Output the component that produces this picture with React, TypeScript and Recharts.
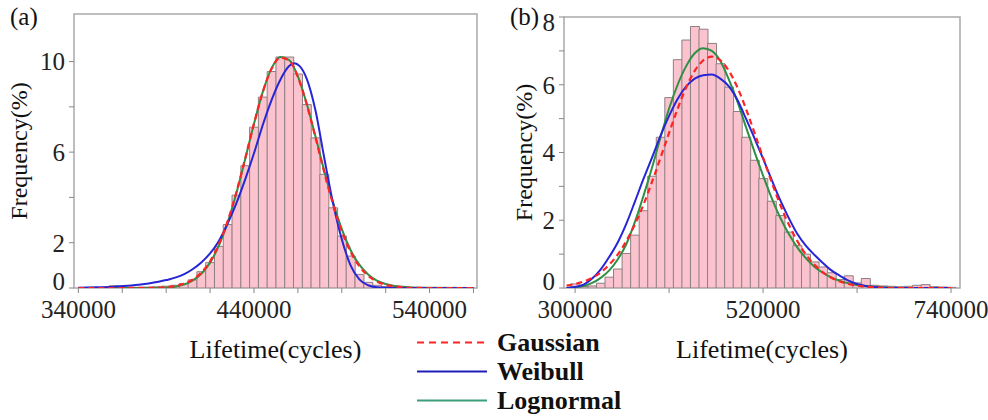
import React from 'react';
import { ComposedChart, Bar, Line, XAxis, YAxis, ReferenceArea } from 'recharts';

const FONT = '"Liberation Serif", "Times New Roman", Times, serif';
const RED = '#ff2424';
const BLUE = '#2626d6';
const GREEN = '#2f8f45';
const LEGEND_GREEN = '#3a9e78';
const BAR_FILL = '#fbc3cd';
const BAR_STROKE = '#8e7e82';
const FRAME = '#a9a9a9';

// ---------- Panel (a) ----------
const binCentersA = [350000, 355000, 360000, 365000, 370000, 375000, 380000, 385000, 390000, 395000, 400000, 405000, 410000, 415000, 420000, 425000, 430000, 435000, 440000, 445000, 450000, 455000, 460000, 465000, 470000, 475000, 480000, 485000, 490000, 495000, 500000, 505000, 510000, 515000, 520000, 525000, 530000, 535000, 540000, 545000, 550000];
const freqA = [0, 0.03, 0.1, 0.05, 0.03, 0.03, 0.04, 0.05, 0.08, 0.12, 0.2, 0.36, 0.72, 1.12, 1.84, 2.8, 4.1, 5.4, 7.1, 8.43, 9.56, 10.2, 10.2, 9.45, 8.1, 6.63, 5.02, 3.54, 2.29, 1.41, 0.6, 0.25, 0.12, 0.06, 0.04, 0.03, 0.02, 0.02, 0.02, 0.01, 0.01];

const fitXA = [340000, 360000, 380000, 390000, 395000, 400000, 405000, 410000, 415000, 420000, 425000, 430000, 435000, 440000, 445000, 450000, 455000, 460000, 465000, 470000, 475000, 480000, 485000, 490000, 495000, 500000, 505000, 510000, 515000, 520000, 525000, 530000, 540000, 565000];
const gaussianA = [0, 0, 0.01, 0.04, 0.09, 0.19, 0.37, 0.68, 1.18, 1.93, 2.95, 4.24, 5.72, 7.26, 8.65, 9.68, 10.17, 10.05, 9.32, 8.12, 6.65, 5.11, 3.7, 2.51, 1.6, 0.96, 0.54, 0.28, 0.14, 0.07, 0.03, 0.01, 0, 0];
const lognormalA = [0, 0, 0, 0.02, 0.06, 0.15, 0.33, 0.63, 1.12, 1.87, 2.9, 4.2, 5.7, 7.25, 8.66, 9.7, 10.2, 10.07, 9.35, 8.15, 6.7, 5.18, 3.78, 2.6, 1.68, 1.03, 0.6, 0.33, 0.18, 0.09, 0.05, 0.02, 0.01, 0];
const weibullXA = [340000, 350000, 360000, 370000, 380000, 390000, 400000, 405000, 410000, 415000, 420000, 425000, 430000, 435000, 440000, 445000, 450000, 455000, 460000, 463000, 466000, 470000, 475000, 480000, 485000, 490000, 495000, 500000, 505000, 510000, 520000, 565000];
const weibullA = [0.01, 0.03, 0.06, 0.11, 0.2, 0.35, 0.6, 0.83, 1.13, 1.53, 2.08, 2.85, 3.75, 4.8, 5.95, 7.2, 8.3, 9.2, 9.8, 9.93, 9.8, 9.25, 7.85, 5.75, 3.75, 2.15, 1.0, 0.38, 0.12, 0.03, 0, 0];

const xDomainA = [337500, 567000];
const xTicksA = [340000, 365000, 390000, 415000, 440000, 465000, 490000, 515000, 540000, 565000];
const xLabelsA = [340000, 440000, 540000];
const yDomainA = [0, 12.1];
const yTicksA = [0, 2, 4, 6, 8, 10];
const yLabelsA = [0, 2, 6, 10];

// ---------- Panel (b) ----------
const binCentersB = [300000, 310000, 320000, 330000, 340000, 350000, 360000, 370000, 380000, 390000, 400000, 410000, 420000, 430000, 440000, 450000, 460000, 470000, 480000, 490000, 500000, 510000, 520000, 530000, 540000, 550000, 560000, 570000, 580000, 590000, 600000, 610000, 620000, 630000, 640000, 650000, 660000, 670000, 680000, 690000, 700000, 710000, 720000, 730000, 740000];
const freqB = [0.12, 0.04, 0.06, 0.14, 0.32, 0.56, 1.02, 1.56, 2.28, 3.3, 4.45, 5.62, 6.74, 7.32, 7.72, 7.64, 7.22, 6.62, 5.93, 5.21, 4.45, 3.77, 3.23, 2.56, 2.14, 1.65, 1.25, 1.0, 0.77, 0.62, 0.45, 0.25, 0.36, 0.15, 0.28, 0.08, 0.06, 0.05, 0.04, 0.05, 0.08, 0.1, 0.04, 0.03, 0.02];

const fitXB = [290000, 300000, 310000, 320000, 330000, 340000, 350000, 360000, 370000, 380000, 390000, 400000, 410000, 420000, 430000, 440000, 450000, 460000, 470000, 480000, 490000, 500000, 510000, 520000, 530000, 540000, 550000, 560000, 570000, 580000, 590000, 600000, 610000, 620000, 630000, 640000, 650000, 660000, 670000, 680000, 690000, 700000, 720000, 740000];
const gaussianB = [0.07, 0.12, 0.19, 0.3, 0.46, 0.69, 0.99, 1.39, 1.88, 2.46, 3.13, 3.85, 4.58, 5.29, 5.92, 6.41, 6.72, 6.83, 6.72, 6.41, 5.92, 5.29, 4.58, 3.85, 3.13, 2.46, 1.88, 1.39, 0.99, 0.69, 0.46, 0.3, 0.19, 0.12, 0.07, 0.04, 0.02, 0.01, 0, 0, 0, 0, 0, 0];
const weibullB = [0, 0.03, 0.1, 0.28, 0.55, 0.92, 1.35, 1.9, 2.55, 3.22, 3.85, 4.5, 5.08, 5.58, 5.95, 6.18, 6.28, 6.3, 6.18, 5.95, 5.55, 5.0, 4.42, 3.82, 3.2, 2.6, 2.07, 1.6, 1.25, 0.98, 0.74, 0.52, 0.36, 0.22, 0.12, 0.06, 0.03, 0.01, 0, 0, 0, 0, 0, 0];
const lognormalB = [0, 0.02, 0.06, 0.15, 0.3, 0.52, 0.85, 1.3, 1.95, 2.72, 3.55, 4.45, 5.3, 6.0, 6.55, 6.93, 7.08, 7.0, 6.7, 6.15, 5.5, 4.75, 4.02, 3.32, 2.66, 2.08, 1.6, 1.2, 0.88, 0.63, 0.45, 0.31, 0.21, 0.14, 0.09, 0.06, 0.04, 0.02, 0.01, 0, 0, 0, 0, 0];

const xDomainB = [287000, 750500];
const xTicksB = [300000, 410000, 520000, 630000, 740000];
const xLabelsB = [300000, 520000, 740000];
const yDomainB = [0, 8];
const yTicksB = [0, 1, 2, 3, 4, 5, 6, 7, 8];
const yLabelsB = [0, 2, 4, 6, 8];

const legendItems = [
  { name: 'Gaussian', color: RED, dash: '7 5' },
  { name: 'Weibull', color: '#1f1fb8', dash: undefined },
  { name: 'Lognormal', color: LEGEND_GREEN, dash: undefined },
];

const zip = (xs: number[], ys: number[]) => xs.map((x, i) => ({ x, y: ys[i] }));

type PanelProps = {
  width: number;
  height: number;
  margin: { top: number; right: number; bottom: number; left: number };
  bins: number[];
  freq: number[];
  fitX: number[];
  gaussian: number[];
  lognormal: number[];
  weibullX: number[];
  weibull: number[];
  xDomain: number[];
  xTicks: number[];
  xLabels: number[];
  yDomain: number[];
  yTicks: number[];
  yLabels: number[];
  yLabelOffset: number;
  zeroShift: number;
  topShift: number;
};

function makeYTick(labels: number[], zeroShift: number, topShift: number, topValue: number) {
  return (props: any) => {
    const { x, y, payload } = props;
    const v = payload.value;
    if (!labels.includes(v)) return <g />;
    const shift = v === 0 ? zeroShift : v === topValue ? topShift : 0;
    return (
      <text
        x={x}
        y={y + shift}
        dy="0.355em"
        textAnchor="end"
        fontFamily={FONT}
        fontSize={25}
        fill="#222"
      >
        {String(v)}
      </text>
    );
  };
}

function Panel(p: PanelProps) {
  const rows = p.bins.map((x, i) => ({ x, freq: p.freq[i] }));
  const tickStyle = { fontFamily: FONT, fontSize: 25, fill: '#222' };
  const topLabel = p.yLabels[p.yLabels.length - 1];
  return (
    <ComposedChart
      width={p.width}
      height={p.height}
      data={rows}
      margin={p.margin}
      barCategoryGap={0}
      barGap={0}
    >
      <XAxis
        xAxisId="bins"
        dataKey="x"
        type="number"
        domain={p.xDomain}
        allowDataOverflow
        ticks={p.xTicks}
        interval={0}
        tickFormatter={(v: number) => (p.xLabels.includes(v) ? String(v) : '')}
        tick={tickStyle}
        tickSize={5}
        tickMargin={7}
        height={74}
        stroke="#888"
        axisLine={false}
        label={{
          value: 'Lifetime(cycles)',
          position: 'insideBottom',
          offset: 4,
          style: { fontFamily: FONT, fontSize: 26, fill: '#111' },
        }}
      />
      <XAxis
        xAxisId="fit"
        dataKey="x"
        type="number"
        domain={p.xDomain}
        allowDataOverflow
        hide
      />
      <YAxis
        type="number"
        domain={p.yDomain}
        allowDataOverflow
        ticks={p.yTicks}
        interval={0}
        tick={makeYTick(p.yLabels, p.zeroShift, p.topShift, topLabel)}
        tickSize={5}
        tickMargin={4}
        width={74}
        stroke="#888"
        axisLine={false}
        label={{
          value: 'Frequency(%)',
          angle: -90,
          position: 'insideLeft',
          offset: p.yLabelOffset,
          style: { fontFamily: FONT, fontSize: 24, fill: '#111', textAnchor: 'middle' },
        }}
      />
      <Bar
        xAxisId="bins"
        dataKey="freq"
        fill={BAR_FILL}
        stroke={BAR_STROKE}
        strokeWidth={1}
        isAnimationActive={false}
      />
      <Line
        xAxisId="fit"
        data={zip(p.fitX, p.lognormal)}
        dataKey="y"
        type="monotone"
        stroke={GREEN}
        strokeWidth={2}
        dot={false}
        activeDot={false}
        isAnimationActive={false}
      />
      <Line
        xAxisId="fit"
        data={zip(p.weibullX, p.weibull)}
        dataKey="y"
        type="monotone"
        stroke={BLUE}
        strokeWidth={2}
        dot={false}
        activeDot={false}
        isAnimationActive={false}
      />
      <Line
        xAxisId="fit"
        data={zip(p.fitX, p.gaussian)}
        dataKey="y"
        type="monotone"
        stroke={RED}
        strokeWidth={2.2}
        strokeDasharray="6 4"
        dot={false}
        activeDot={false}
        isAnimationActive={false}
      />
      <ReferenceArea
        xAxisId="bins"
        x1={p.xDomain[0]}
        x2={p.xDomain[1]}
        y1={p.yDomain[0]}
        y2={p.yDomain[1]}
        fill="none"
        stroke={FRAME}
        strokeWidth={1.5}
        ifOverflow="visible"
      />
    </ComposedChart>
  );
}

export default function App() {
  return (
    <div style={{ position: 'absolute', left: 0, top: 0, width: 988, height: 420, background: '#fff', fontFamily: FONT }}>
      <div style={{ position: 'absolute', left: 0, top: 0 }}>
        <Panel
          width={490}
          height={370}
          margin={{ top: 14, right: 13, bottom: 8, left: 0 }}
          bins={binCentersA}
          freq={freqA}
          fitX={fitXA}
          gaussian={gaussianA}
          lognormal={lognormalA}
          weibullX={weibullXA}
          weibull={weibullA}
          xDomain={xDomainA}
          xTicks={xTicksA}
          xLabels={xLabelsA}
          yDomain={yDomainA}
          yTicks={yTicksA}
          yLabels={yLabelsA}
          yLabelOffset={18}
          zeroShift={-7}
          topShift={0}
        />
      </div>
      <div style={{ position: 'absolute', left: 490, top: 0 }}>
        <Panel
          width={498}
          height={370}
          margin={{ top: 17, right: 28, bottom: 8, left: 0 }}
          bins={binCentersB}
          freq={freqB}
          fitX={fitXB}
          gaussian={gaussianB}
          lognormal={lognormalB}
          weibullX={fitXB}
          weibull={weibullB}
          xDomain={xDomainB}
          xTicks={xTicksB}
          xLabels={xLabelsB}
          yDomain={yDomainB}
          yTicks={yTicksB}
          yLabels={yLabelsB}
          yLabelOffset={33}
          zeroShift={-7}
          topShift={5}
        />
      </div>
      <div style={{ position: 'absolute', left: 10, top: 2, fontSize: 25, lineHeight: '30px', color: '#111' }}>(a)</div>
      <div style={{ position: 'absolute', left: 510, top: 2, fontSize: 25, lineHeight: '30px', color: '#111' }}>(b)</div>
      <div style={{ position: 'absolute', left: 417, top: 328 }}>
        {legendItems.map((it) => (
          <div key={it.name} style={{ display: 'flex', alignItems: 'center', height: 29 }}>
            <svg width={70} height={29}>
              <line x1={0} y1={14.5} x2={70} y2={14.5} stroke={it.color} strokeWidth={2.2} strokeDasharray={it.dash} />
            </svg>
            <span style={{ marginLeft: 10, fontSize: 26, fontWeight: 'bold', lineHeight: '29px', color: '#111' }}>{it.name}</span>
          </div>
        ))}
      </div>
    </div>
  );
}
